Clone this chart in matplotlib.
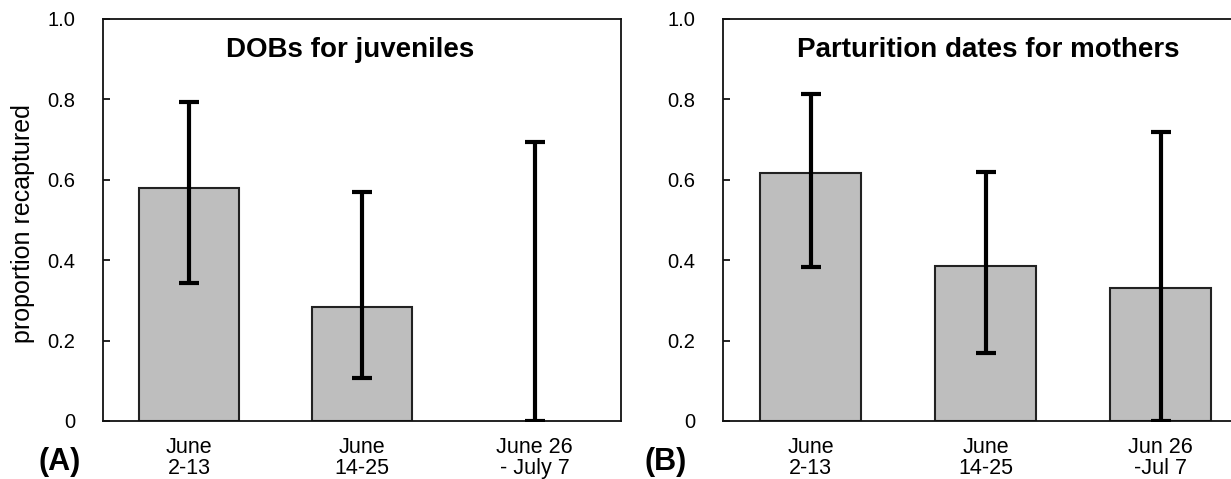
import matplotlib
matplotlib.use("Agg")
import matplotlib.pyplot as plt
import numpy as np

plt.rcParams['font.family'] = ['Liberation Sans', 'DejaVu Sans']

# Data
cats_a = ["June\n2-13", "June\n14-25", "June 26\n- July 7"]
means_a = np.array([0.579, 0.284, 0.0])
upper_a = np.array([0.794, 0.570, 0.695])
lower_a = np.array([0.343, 0.108, 0.0])

cats_b = ["June\n2-13", "June\n14-25", "Jun 26\n-Jul 7"]
means_b = np.array([0.618, 0.386, 0.332])
upper_b = np.array([0.814, 0.620, 0.720])
lower_b = np.array([0.384, 0.170, 0.0])

yticks = [0, 0.2, 0.4, 0.6, 0.8, 1.0]
ytick_labels = ["0", "0.2", "0.4", "0.6", "0.8", "1.0"]

W, H = 1231, 479
fig = plt.figure(figsize=(W / 100, H / 100), dpi=100)

ax_a = fig.add_axes([103 / W, 58 / H, 518 / W, 402 / H])
ax_b = fig.add_axes([723 / W, 58 / H, 525 / W, 402 / H])


def draw(ax, cats, means, upper, lower, title, title_x, panel, panel_x):
    x = np.arange(len(cats))
    heights = np.where(means > 0, means, np.nan)
    ax.bar(x, heights, width=0.58, color="#bebebe", edgecolor="#222222",
           linewidth=1.5, zorder=2)
    ax.errorbar(x, means, yerr=[means - lower, upper - means], fmt="none",
                ecolor="black", elinewidth=3, capsize=7.5, capthick=3, zorder=3)
    ax.set_xlim(-0.5, 2.5)
    ax.set_ylim(0, 1.0)
    ax.set_yticks(yticks)
    ax.set_yticklabels(ytick_labels, fontsize=14.5)
    ax.set_xticks(x)
    ax.set_xticklabels(cats, fontsize=15.5, linespacing=0.98)
    ax.tick_params(axis="y", direction="in", length=5, width=1.2, pad=20)
    ax.tick_params(axis="x", length=0, pad=11.5)
    for s in ax.spines.values():
        s.set_linewidth(1.3)
        s.set_color("#111111")
    ax.text(title_x, 0.905, title, transform=ax.transAxes, ha="center",
            va="baseline", fontsize=20, fontweight="bold")
    fig.text(panel_x / W, 1 - 470 / H, panel, ha="center", va="baseline",
             fontsize=22, fontweight="bold")


draw(ax_a, cats_a, means_a, upper_a, lower_a, "DOBs for juveniles", 0.478, "(A)", 59.5)
draw(ax_b, cats_b, means_b, upper_b, lower_b, "Parturition dates for mothers", 0.505, "(B)", 666)

ax_a.set_ylabel("proportion recaptured", fontsize=18)
ax_a.yaxis.set_label_coords(-(103 - 35) / 518, 0.49)

fig.savefig("out.png", dpi=100)
